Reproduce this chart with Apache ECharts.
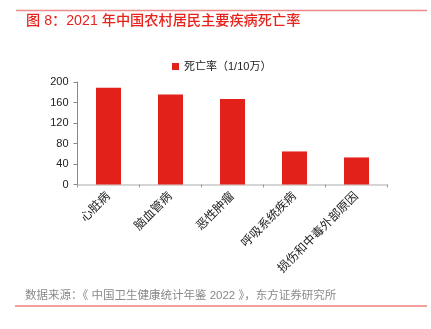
<!DOCTYPE html>
<html><head><meta charset="utf-8">
<script src="https://cdn.jsdelivr.net/npm/echarts@6/dist/echarts.min.js"></script>
<style>html,body{margin:0;padding:0;background:#fff}#c{width:431px;height:329px}</style>
</head><body><div id="c"></div>
<script>
const categories = ['心脏病','脑血管病','恶性肿瘤','呼吸系统疾病','损伤和中毒外部原因'];
const deathRate = [188.6, 175.6, 166.6, 64.5, 52.8];
const seriesName = '死亡率（1/10万）';
const titleText = '图 8：2021 年中国农村居民主要疾病死亡率';
const sourceText = '数据来源：《 中国卫生健康统计年鉴 2022 》，东方证券研究所';
const yTicks = [0, 40, 80, 120, 160, 200];

const FONT = '"Liberation Sans", "Noto Sans CJK SC", sans-serif';
const chart = echarts.init(document.getElementById('c'), null, {renderer: 'canvas'});
chart.setOption({
  animation: false,
  textStyle: {fontFamily: FONT},
  graphic: [
    {type: 'line', shape: {x1: 16, y1: 10.5, x2: 427, y2: 10.5}, style: {stroke: '#f08a8a', lineWidth: 1.5}},
    {type: 'text', left: 26, top: 14, style: {text: titleText, fill: '#e8231c', font: '500 14.2px ' + FONT}},
    {type: 'text', left: 25, top: 290, style: {text: sourceText, fill: '#8a8a8a', font: '11.5px ' + FONT}},
    {type: 'line', shape: {x1: 15, y1: 306, x2: 427, y2: 306}, style: {stroke: '#e8403a', lineWidth: 1}}
  ],
  legend: {
    data: [seriesName], left: 167, top: 56, icon: 'rect', itemWidth: 7, itemHeight: 7, itemGap: 4,
    textStyle: {fontSize: 11, color: '#222', fontFamily: FONT}
  },
  grid: {left: 77.5, right: 43.5, top: 82, bottom: 144.5, containLabel: false},
  xAxis: {
    type: 'category', data: categories,
    axisLine: {lineStyle: {color: '#c8c8c8', width: 1.5}},
    axisTick: {show: true, alignWithLabel: false, length: 3, lineStyle: {color: '#999'}},
    axisLabel: {rotate: 45, fontSize: 12, color: '#222', margin: 10, fontFamily: FONT, interval: 0}
  },
  yAxis: {
    type: 'value', min: yTicks[0], max: yTicks[yTicks.length - 1], interval: 40,
    axisLine: {show: true, lineStyle: {color: '#888'}},
    axisTick: {show: true, length: 4, lineStyle: {color: '#888'}},
    splitLine: {show: false},
    axisLabel: {fontSize: 11, color: '#222', margin: 9, fontFamily: FONT}
  },
  series: [{
    name: seriesName, type: 'bar', data: deathRate, barWidth: 25,
    itemStyle: {color: '#e3211b'}
  }]
});
</script></body></html>
